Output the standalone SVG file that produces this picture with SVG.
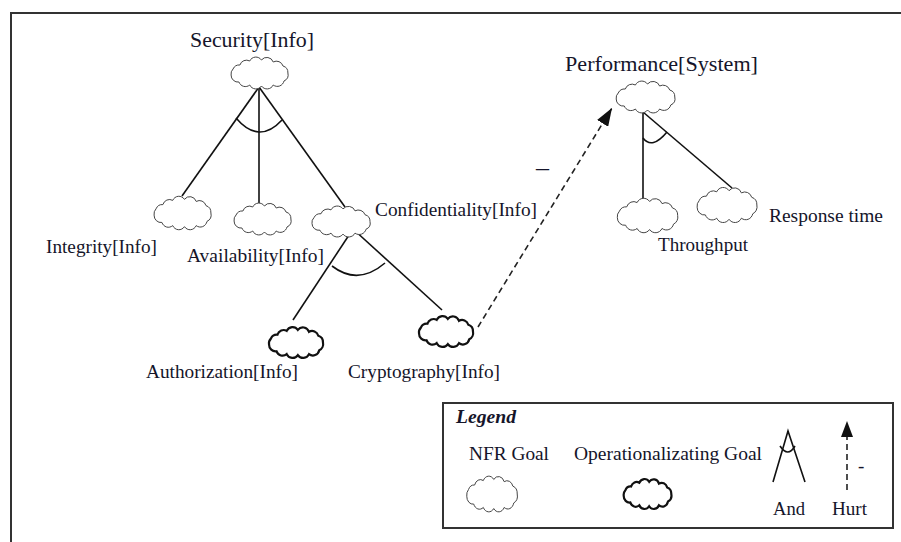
<svg xmlns="http://www.w3.org/2000/svg" xmlns:xlink="http://www.w3.org/1999/xlink" width="901" height="542" viewBox="0 0 901 542">
<style>
  text { font-family: "Liberation Serif", "Times New Roman", serif; fill: #15152a; }
  .lbl { font-size: 19px; }
  .title { font-size: 21.5px; }
  .nfr { fill: #fff; stroke: #444; stroke-width: 1; }
  .op { fill: #fff; stroke: #111; stroke-width: 2.2; }
  .edge { stroke: #111; stroke-width: 1.6; fill: none; }
  .hurt { stroke: #222; stroke-width: 1.6; fill: none; stroke-dasharray: 6 4; }
</style>
<defs>
  <path id="cloud" vector-effect="non-scaling-stroke" d="M-27,-4 A7,7 0 0 1 -20,-8 A7,7 0 0 1 -10,-12 A7,7 0 0 1 2,-13 A7,7 0 0 1 14,-11 A7,7 0 0 1 24,-7 A7,7 0 0 1 29,0 A7,7 0 0 1 25,8 A7,7 0 0 1 14,12 A7,7 0 0 1 2,13 A7,7 0 0 1 -10,12 A7,7 0 0 1 -21,9 A7,7 0 0 1 -29,2 A7,7 0 0 1 -27,-4 Z"/>
  <marker id="arrow" viewBox="0 0 18 13" refX="18" refY="6.5" markerWidth="18" markerHeight="13" markerUnits="userSpaceOnUse" orient="auto">
    <path d="M0,0 L18,6.5 L0,13 Z" fill="#111"/>
  </marker>
</defs>
<rect width="901" height="542" fill="#fff"/>
<!-- outer frame -->
<path d="M11,542 L11,13 L901,13" fill="none" stroke="#333" stroke-width="2"/>

<g id="connectors">
  <line class="edge" x1="259" y1="87" x2="182" y2="196"/>
  <line class="edge" x1="259" y1="87" x2="259" y2="203"/>
  <line class="edge" x1="259" y1="87" x2="345" y2="207"/>
  <path class="edge" d="M236,118 Q259,145 282,120"/>
  <line class="edge" x1="353" y1="229" x2="293" y2="320"/>
  <line class="edge" x1="353" y1="229" x2="442" y2="310"/>
  <path class="edge" d="M332,266 Q358,286 385,263"/>
  <line class="edge" x1="643" y1="112" x2="643" y2="200"/>
  <line class="edge" x1="643" y1="112" x2="732" y2="188"/>
  <path class="edge" d="M643,138 Q652,150 667,132"/>
  <line class="hurt" x1="478" y1="327" x2="612" y2="108" marker-end="url(#arrow)"/>
  <text x="536" y="176" style="font-size:26px">–</text>
</g>

<g id="security">
  <use xlink:href="#cloud" class="nfr" transform="translate(259.5,73) scale(0.98,1)"/>
  <text class="title" x="190" y="47" textLength="124" lengthAdjust="spacingAndGlyphs">Security[Info]</text>
</g>
<g id="integrity">
  <use xlink:href="#cloud" class="nfr" transform="translate(182.5,213) scale(0.98,1.05)"/>
  <text class="lbl" x="46" y="253" textLength="111" lengthAdjust="spacingAndGlyphs">Integrity[Info]</text>
</g>
<g id="availability">
  <use xlink:href="#cloud" class="nfr" transform="translate(262.5,219) scale(0.98,1)"/>
  <text class="lbl" x="187" y="262" textLength="137" lengthAdjust="spacingAndGlyphs">Availability[Info]</text>
</g>
<g id="confidentiality">
  <use xlink:href="#cloud" class="nfr" transform="translate(341,221.5) scale(1,0.97)"/>
  <text class="lbl" x="375" y="216" textLength="162" lengthAdjust="spacingAndGlyphs">Confidentiality[Info]</text>
</g>
<g id="authorization">
  <use xlink:href="#cloud" class="op" transform="translate(296,342.5) scale(0.93,0.97)"/>
  <text class="lbl" x="146" y="378" textLength="152" lengthAdjust="spacingAndGlyphs">Authorization[Info]</text>
</g>
<g id="cryptography">
  <use xlink:href="#cloud" class="op" transform="translate(446,331.5) scale(0.93,0.97)"/>
  <text class="lbl" x="348" y="378" textLength="152" lengthAdjust="spacingAndGlyphs">Cryptography[Info]</text>
</g>
<g id="performance">
  <use xlink:href="#cloud" class="nfr" transform="translate(645.5,97) scale(1.01,1)"/>
  <text class="title" x="565" y="71" textLength="193" lengthAdjust="spacingAndGlyphs">Performance[System]</text>
</g>
<g id="throughput">
  <use xlink:href="#cloud" class="nfr" transform="translate(647.5,215.5) scale(1.04,1.08)"/>
  <text class="lbl" x="658" y="251" textLength="90" lengthAdjust="spacingAndGlyphs">Throughput</text>
</g>
<g id="response-time">
  <use xlink:href="#cloud" class="nfr" transform="translate(727,205) scale(1.03,1.1)"/>
  <text class="lbl" x="769" y="222" textLength="114" lengthAdjust="spacingAndGlyphs">Response time</text>
</g>

<g id="legend">
  <rect x="443" y="403" width="450" height="125" fill="none" stroke="#333" stroke-width="2"/>
  <text x="456" y="423" style="font-size:19px;font-weight:bold;font-style:italic" textLength="60" lengthAdjust="spacingAndGlyphs">Legend</text>
  <text class="lbl" x="469" y="460" textLength="80" lengthAdjust="spacingAndGlyphs">NFR Goal</text>
  <use xlink:href="#cloud" class="nfr" transform="translate(492,494) scale(0.87,1.12)"/>
  <text class="lbl" x="574" y="460" textLength="188" lengthAdjust="spacingAndGlyphs">Operationalizating Goal</text>
  <use xlink:href="#cloud" class="op" transform="translate(647.5,494) scale(0.82,0.94)"/>
  <path class="edge" d="M773,482 L788,431 L805,482"/>
  <path class="edge" d="M780,446 Q788,458 795,446"/>
  <text class="lbl" x="773" y="515" textLength="32" lengthAdjust="spacingAndGlyphs">And</text>
  <line class="hurt" x1="847" y1="490" x2="847" y2="436"/>
  <path d="M847,421 L853,437 L841,437 Z" fill="#111"/>
  <text class="lbl" x="858" y="472">-</text>
  <text class="lbl" x="832" y="515" textLength="35" lengthAdjust="spacingAndGlyphs">Hurt</text>
</g>
</svg>
